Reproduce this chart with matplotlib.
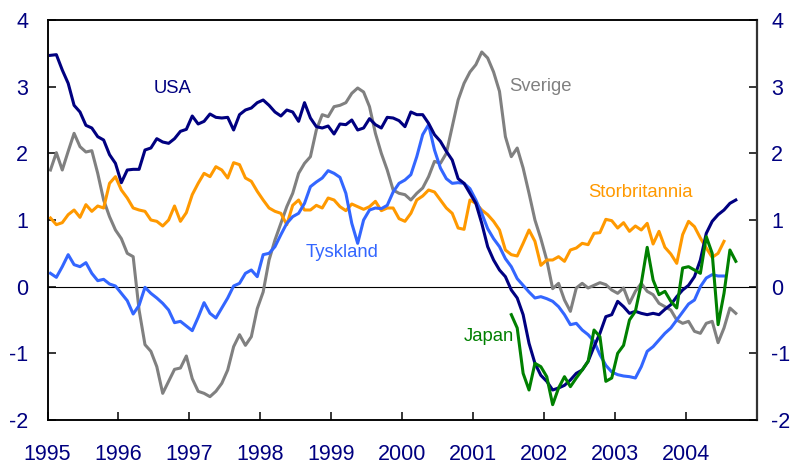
import numpy as np
import matplotlib
matplotlib.use("Agg")
import matplotlib.pyplot as plt

plt.rcParams['font.family'] = ['Liberation Sans', 'DejaVu Sans']
plt.rcParams['axes.unicode_minus'] = False

# monthly values, Jan 1995 onwards
usa = [
    3.47, 3.48, 3.25, 3.05, 2.72, 2.62, 2.42, 2.38, 2.25, 2.20, 1.98, 1.85,
    1.56, 1.75, 1.76, 1.76, 2.05, 2.08, 2.22, 2.17, 2.15, 2.22, 2.33, 2.36,
    2.56, 2.44, 2.48, 2.59, 2.54, 2.53, 2.54, 2.35, 2.58, 2.65, 2.68, 2.76,
    2.80, 2.72, 2.62, 2.56, 2.65, 2.62, 2.48, 2.76, 2.53, 2.40, 2.38, 2.41,
    2.29, 2.44, 2.43, 2.50, 2.35, 2.38, 2.52, 2.43, 2.38, 2.54, 2.53, 2.49,
    2.40, 2.62, 2.58, 2.58, 2.45, 2.28, 2.18, 2.03, 1.90, 1.62, 1.55, 1.40,
    1.25, 0.95, 0.60, 0.40, 0.25, 0.15, -0.05, -0.17, -0.42, -0.85, -1.15, -1.33,
    -1.42, -1.55, -1.52, -1.48, -1.40, -1.30, -1.25, -1.12, -0.90, -0.70, -0.45, -0.42,
    -0.22, -0.30, -0.40, -0.37, -0.40, -0.42, -0.40, -0.42, -0.34, -0.27, -0.15, -0.05,
    0.02, 0.15, 0.40, 0.80, 0.98, 1.08, 1.15, 1.25, 1.30,
]
sverige = [
    1.75, 2.01, 1.75, 2.03, 2.30, 2.10, 2.02, 2.04, 1.70, 1.30, 1.05, 0.85,
    0.72, 0.50, 0.45, -0.35, -0.87, -0.97, -1.20, -1.60, -1.42, -1.24, -1.22, -1.04,
    -1.38, -1.57, -1.60, -1.65, -1.57, -1.45, -1.25, -0.90, -0.72, -0.88, -0.75, -0.33,
    -0.08, 0.40, 0.70, 0.95, 1.20, 1.40, 1.70, 1.85, 1.95, 2.35, 2.58, 2.55,
    2.70, 2.72, 2.76, 2.90, 2.98, 2.92, 2.70, 2.30, 2.00, 1.75, 1.45, 1.40,
    1.38, 1.30, 1.40, 1.48, 1.65, 1.88, 1.85, 2.00, 2.40, 2.80, 3.05, 3.22,
    3.33, 3.52, 3.43, 3.22, 2.93, 2.25, 1.95, 2.08, 1.78, 1.40, 1.00, 0.72,
    0.40, -0.03, 0.05, -0.20, -0.37, -0.02, 0.05, -0.02, 0.02, 0.06, 0.03, -0.05,
    -0.10, -0.02, -0.25, -0.07, 0.05, -0.07, -0.12, -0.25, -0.30, -0.35, -0.50, -0.55,
    -0.52, -0.67, -0.70, -0.55, -0.52, -0.84, -0.62, -0.32, -0.40,
]
storbritannia = [
    1.03, 0.93, 0.96, 1.08, 1.15, 1.04, 1.23, 1.13, 1.21, 1.18, 1.55, 1.65,
    1.45, 1.33, 1.18, 1.15, 1.13, 1.00, 0.98, 0.91, 1.00, 1.21, 0.98, 1.11,
    1.38, 1.55, 1.70, 1.65, 1.80, 1.75, 1.63, 1.86, 1.83, 1.63, 1.58, 1.43,
    1.30, 1.18, 1.13, 1.10, 0.93, 1.22, 1.30, 1.15, 1.15, 1.22, 1.18, 1.33,
    1.30, 1.20, 1.14, 1.24, 1.20, 1.16, 1.20, 1.28, 1.14, 1.18, 1.18, 1.02,
    0.98, 1.10, 1.30, 1.36, 1.45, 1.42, 1.30, 1.18, 1.10, 0.88, 0.86, 1.30,
    1.25, 1.15, 1.08, 0.98, 0.85, 0.55, 0.48, 0.46, 0.65, 0.85, 0.68, 0.32,
    0.40, 0.40, 0.45, 0.38, 0.55, 0.58, 0.65, 0.63, 0.80, 0.81, 1.01, 0.99,
    0.88, 0.96, 0.83, 0.91, 0.85, 0.95, 0.64, 0.83, 0.59, 0.49, 0.35, 0.78,
    0.98, 0.90, 0.73, 0.58, 0.44, 0.50, 0.68,
]
tyskland = [
    0.20, 0.14, 0.30, 0.48, 0.33, 0.30, 0.36, 0.20, 0.09, 0.11, 0.04, 0.01,
    -0.10, -0.21, -0.41, -0.28, -0.01, -0.10, -0.17, -0.25, -0.35, -0.54, -0.52, -0.59,
    -0.66, -0.46, -0.24, -0.40, -0.47, -0.32, -0.17, 0.01, 0.05, 0.20, 0.25, 0.15,
    0.48, 0.50, 0.60, 0.78, 0.95, 1.05, 1.10, 1.25, 1.50, 1.57, 1.63, 1.74,
    1.70, 1.64, 1.40, 0.95, 0.65, 1.00, 1.15, 1.18, 1.17, 1.22, 1.42, 1.55,
    1.60, 1.68, 1.95, 2.28, 2.43, 2.05, 1.78, 1.62, 1.55, 1.56, 1.55, 1.47,
    1.30, 1.10, 0.87, 0.72, 0.60, 0.42, 0.30, 0.12, 0.02, -0.08, -0.17, -0.15,
    -0.18, -0.22, -0.30, -0.42, -0.57, -0.55, -0.65, -0.72, -0.82, -1.02, -1.18, -1.28,
    -1.32, -1.34, -1.35, -1.37, -1.20, -0.97, -0.90, -0.80, -0.70, -0.62, -0.50, -0.38,
    -0.26, -0.20, 0.00, 0.13, 0.18, 0.16, 0.16,
]
# Japan starts July 2001
japan_start = 78
japan = [
    -0.42, -0.62, -1.30, -1.55, -1.15, -1.20,
    -1.35, -1.77, -1.52, -1.35, -1.50, -1.37, -1.25, -1.12, -0.65, -0.75, -1.42, -1.37,
    -1.00, -0.88, -0.50, -0.37, 0.05, 0.59, 0.10, -0.12, -0.07, -0.22, -0.32, 0.28,
    0.30, 0.25, 0.20, 0.75, 0.50, -0.57, -0.10, 0.55, 0.38,
]

years = list(range(1995, 2005))
yticks = [-2, -1, 0, 1, 2, 3, 4]


def month_x(n, start=0):
    return 1995 + (np.arange(start, start + n) + 0.5) / 12


navy = '#000080'
fig = plt.figure(figsize=(7.93, 4.65), dpi=100)
ax = fig.add_axes([47.5 / 793, 45 / 465, 709 / 793, 400 / 465])

ax.axhline(0, color='black', lw=0.8, zorder=1)
ax.plot(month_x(len(sverige)), sverige, color='#808080', lw=2.2, zorder=2)
ax.plot(month_x(len(storbritannia)), storbritannia, color='#FF9900', lw=2.2, zorder=3)
ax.plot(month_x(len(tyskland)), tyskland, color='#3366FF', lw=2.2, zorder=4)
ax.plot(month_x(len(usa)), usa, color=navy, lw=2.2, zorder=5)
ax.plot(month_x(len(japan), japan_start), japan, color='#008000', lw=2.2, zorder=6)

lab = dict(fontsize=13.3, ha='center', va='center')
ax.text(1996.76, 2.98, 'USA', color=navy, **lab)
ax.text(2001.96, 3.0, 'Sverige', color='#808080', **lab)
ax.text(2003.36, 1.41, 'Storbritannia', color='#FF9900', **lab)
ax.text(1999.15, 0.51, 'Tyskland', color='#3366FF', **lab)
ax.text(2001.23, -0.75, 'Japan', color='#008000', **lab)

ax.set_xlim(1995, 2005)
ax.set_ylim(-2, 4)
ax.set_xticks(years)
ax.set_xticklabels([str(y) for y in years])
ax.set_yticks(yticks)
ax.set_yticklabels([str(t) for t in yticks])

ax.tick_params(axis='x', direction='in', length=6, width=1.1, pad=17.5,
               labelsize=15.5, labelcolor=navy, top=False)
ax.tick_params(axis='y', direction='in', length=6, width=1.1, pad=14,
               labelsize=15.5, labelcolor=navy, right=False)

# right-hand scale, same values
ax2 = ax.twinx()
ax2.set_ylim(-2, 4)
ax2.set_yticks(yticks)
ax2.set_yticklabels([str(t) for t in yticks])
ax2.tick_params(axis='y', direction='in', length=6, width=1.1, pad=10.5,
                labelsize=15.5, labelcolor=navy)

for a in (ax, ax2):
    for s in a.spines.values():
        s.set_linewidth(1.1)
        s.set_color('black')
ax2.spines['right'].set_linewidth(1.6)
ax2.spines['right'].set_color('#333333')

fig.savefig('out.png', dpi=100)
